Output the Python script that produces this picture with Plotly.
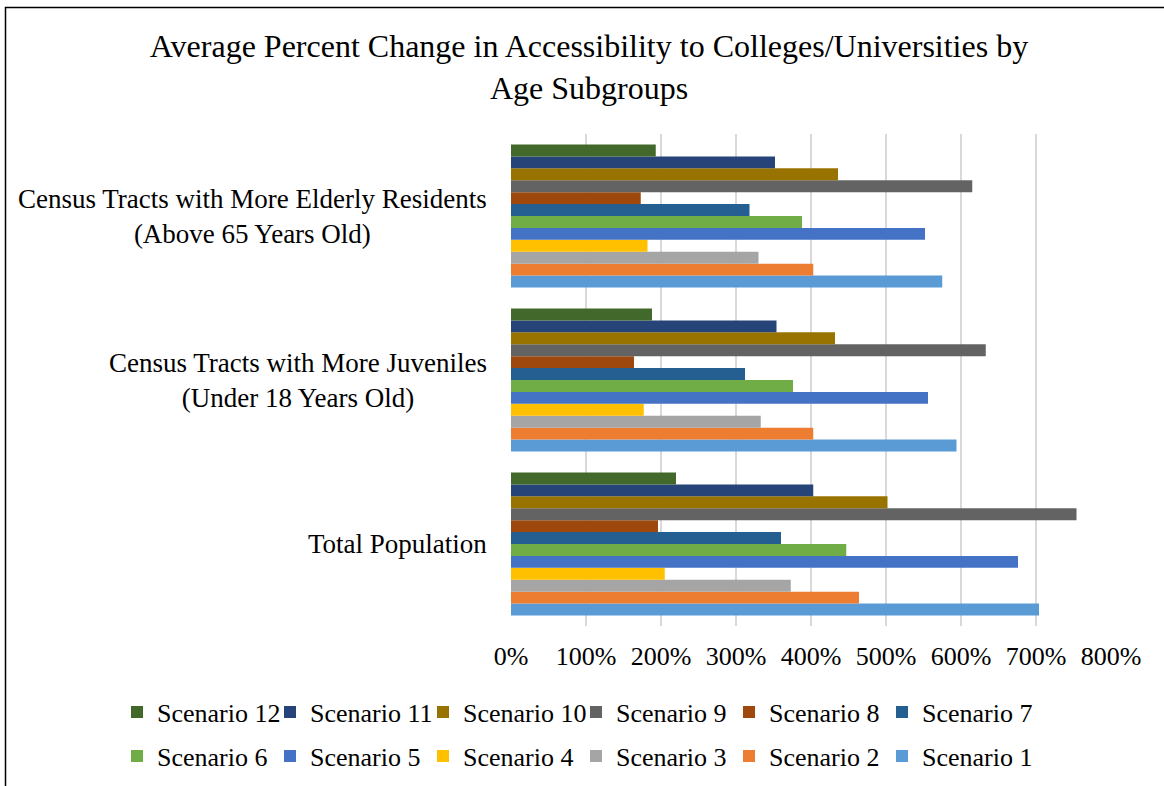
import plotly.graph_objects as go

# Age subgroups (bottom to top on the chart)
groups = [
    "Total Population",
    "Census Tracts with More Juveniles<br>(Under 18 Years Old)",
    "Census Tracts with More Elderly Residents<br>(Above 65 Years Old)",
]

scenarios = [f"Scenario {i}" for i in range(1, 13)]

# Average percent change (%) per scenario, ordered as in `groups`
scenario_1 = [704, 594, 575]
scenario_2 = [464, 403, 403]
scenario_3 = [373, 333, 330]
scenario_4 = [205, 177, 182]
scenario_5 = [676, 556, 552]
scenario_6 = [447, 376, 388]
scenario_7 = [360, 312, 318]
scenario_8 = [196, 164, 173]
scenario_9 = [754, 633, 615]
scenario_10 = [502, 432, 436]
scenario_11 = [403, 354, 352]
scenario_12 = [220, 188, 193]

values = [scenario_1, scenario_2, scenario_3, scenario_4, scenario_5, scenario_6,
          scenario_7, scenario_8, scenario_9, scenario_10, scenario_11, scenario_12]

colors = ["#5B9BD5", "#ED7D31", "#A5A5A5", "#FFC000", "#4472C4", "#70AD47",
          "#255E91", "#9E480E", "#636363", "#997300", "#264478", "#43682B"]

x_ticks = [0, 100, 200, 300, 400, 500, 600, 700, 800]
x_tick_labels = [f"{t}%" for t in x_ticks]

FONT = "Liberation Serif, Times New Roman, serif"
W, H = 1164, 786
L, R, T, B = 511, 53, 134, 160
PW = W - L - R
PH = H - T - B


def px_x(px):
    """Pixel column -> paper x."""
    return (px - L) / PW


def px_y(py):
    """Pixel row (from top) -> paper y."""
    return (H - B - py) / PH


fig = go.Figure()
for i, (name, vals, col) in enumerate(zip(scenarios, values, colors)):
    fig.add_trace(go.Bar(
        y=groups, x=vals, name=name, orientation="h",
        marker=dict(color=col, line=dict(width=0)),
        legend="legend" if i >= 6 else "legend2",
    ))

# Category labels, centred line by line, to the left of the plot area
for g in groups:
    fig.add_annotation(
        x=0, xref="paper", y=g, yref="y", text=g, showarrow=False,
        xanchor="right", yanchor="middle", align="center", xshift=-22,
        font=dict(family=FONT, size=27, color="#000000"),
    )

# Outer chart border
fig.add_shape(
    type="rect", xref="paper", yref="paper",
    x0=px_x(5.5), x1=px_x(W + 30),
    y0=px_y(H + 30), y1=px_y(7.5),
    line=dict(color="#000000", width=1.5), layer="below",
)

legend_common = dict(
    orientation="h", xref="paper", yref="paper", xanchor="left",
    yanchor="middle", traceorder="reversed", entrywidth=108,
    font=dict(family=FONT, size=26, color="#000000"),
    bgcolor="rgba(0,0,0,0)",
)

fig.update_layout(
    width=W, height=H,
    margin=dict(l=L, r=R, t=T, b=B, autoexpand=False),
    paper_bgcolor="white", plot_bgcolor="white",
    barmode="group", bargap=0.128, bargroupgap=0,
    title=dict(
        text="Average Percent Change in Accessibility to Colleges/Universities by<br>Age Subgroups",
        x=589 / W, xanchor="center", xref="container",
        y=1 - 57 / H, yanchor="top", yref="container",
        font=dict(family=FONT, size=32, color="#000000"),
    ),
    font=dict(family=FONT, size=26, color="#000000"),
    xaxis=dict(
        range=[0, 800], tickvals=x_ticks, ticktext=x_tick_labels,
        showgrid=True, gridcolor="#D9D9D9", gridwidth=1.5,
        zeroline=False, showline=False, ticks="",
        ticklabelstandoff=12,
        tickfont=dict(family=FONT, size=26, color="#000000"),
    ),
    yaxis=dict(
        categoryorder="array", categoryarray=groups,
        showticklabels=False, showgrid=False, zeroline=False, showline=False,
    ),
    legend=dict(x=px_x(117), y=px_y(712), **legend_common),
    legend2=dict(x=px_x(117), y=px_y(756), **legend_common),
)

fig.write_html("out.html")
